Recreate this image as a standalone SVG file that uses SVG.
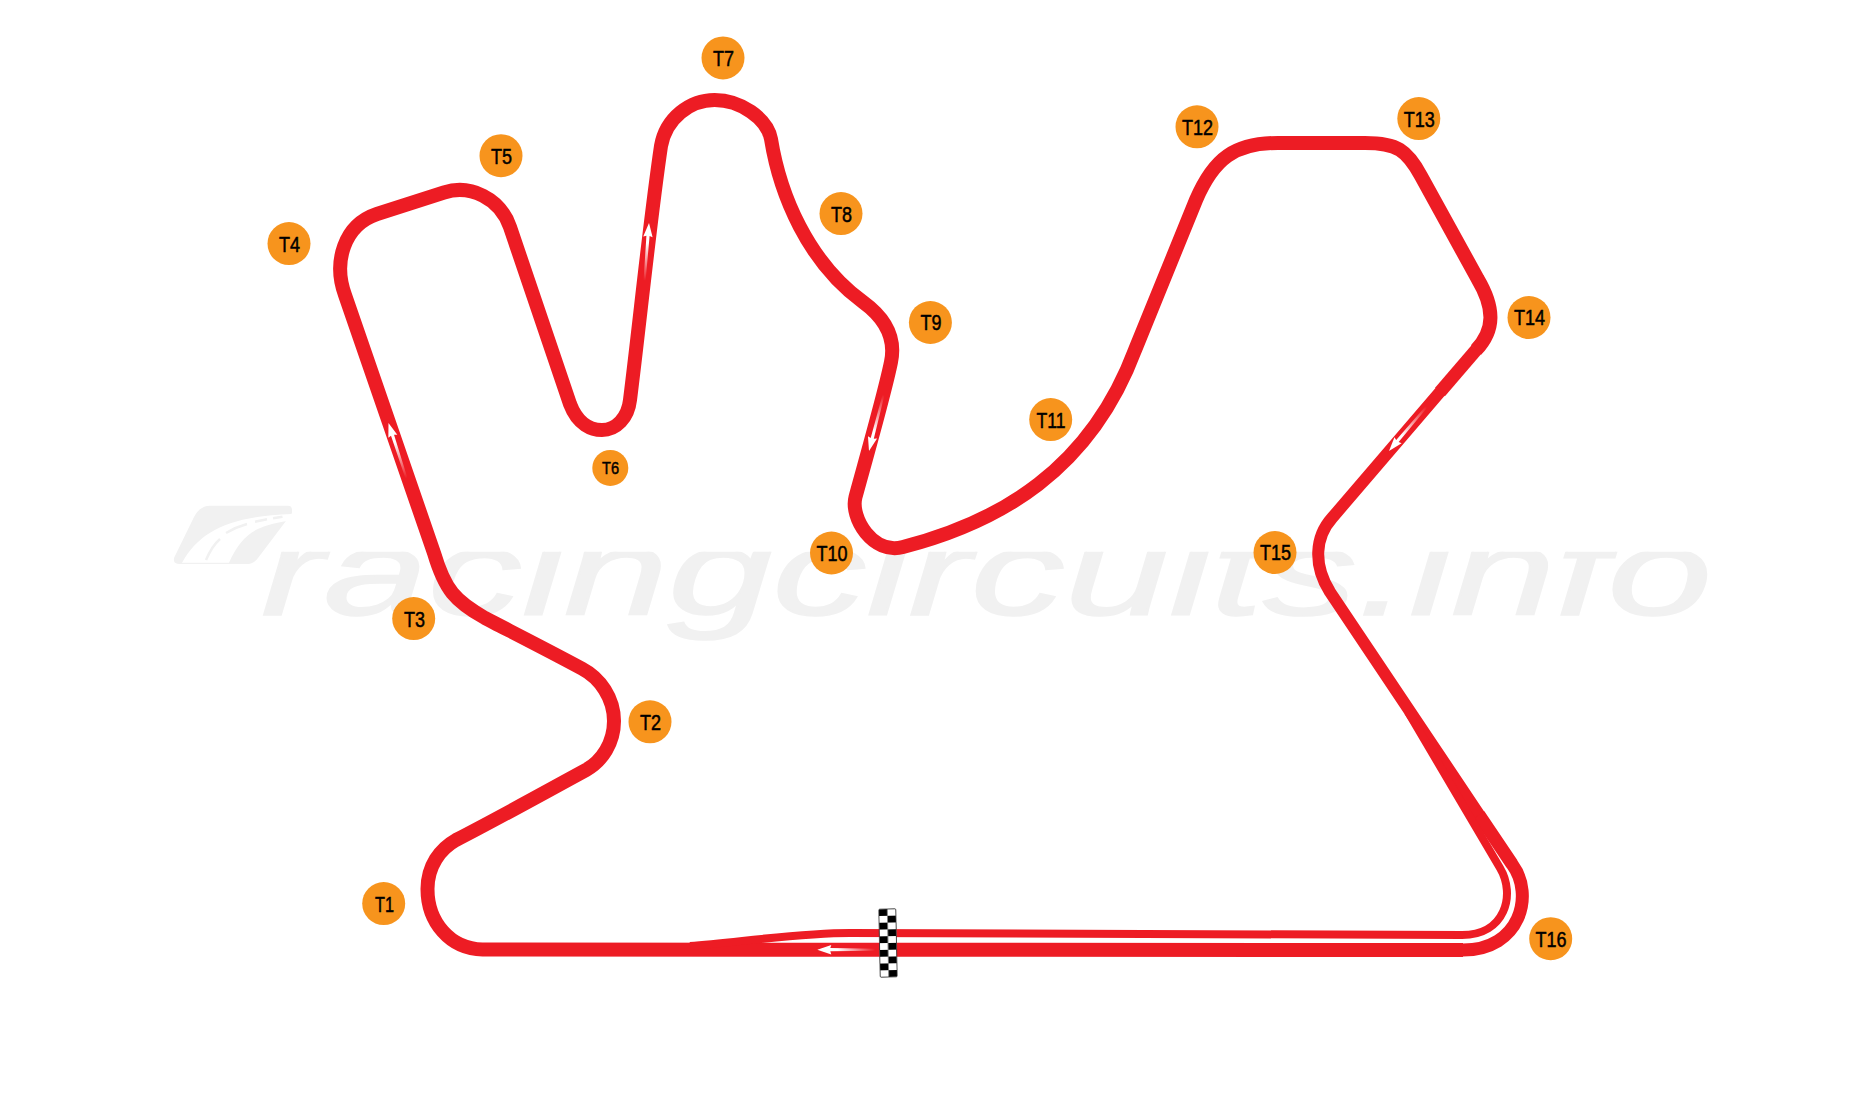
<svg xmlns="http://www.w3.org/2000/svg" width="1875" height="1110" viewBox="0 0 1875 1110">
<defs>
<style>
.trk{fill:none;stroke:#ed1c24;stroke-linecap:butt;stroke-linejoin:round}
.c{fill:#f7941d}
.l{font-family:"Liberation Sans",Arial,sans-serif;font-size:22px;fill:#000;stroke:#000;stroke-width:.5;text-anchor:middle}
.s{font-size:17px}
.wm{font-family:"Liberation Sans",Arial,sans-serif;font-style:italic;font-size:122px;fill:#f1f1f1;stroke:#f1f1f1;stroke-width:1.5}
</style>
<linearGradient id="fade" x1="0" y1="0" x2="1" y2="0">
<stop offset="0" stop-color="#fff"/><stop offset=".35" stop-color="#fff"/><stop offset="1" stop-color="#fff" stop-opacity="0"/>
</linearGradient>
<pattern id="chk" x="0" y="0" width="17" height="13.6" patternUnits="userSpaceOnUse" patternTransform="translate(879.5 909)">
<rect width="17" height="13.6" fill="#fff"/>
<rect width="8.5" height="6.8" fill="#000"/>
<rect x="8.5" y="6.8" width="8.5" height="6.8" fill="#000"/>
</pattern>
<clipPath id="xh"><rect x="200" y="551.7" width="1600" height="90"/></clipPath>
<path id="arrow" fill="url(#fade)" d="M0,0 L14,-4.7 L13,-1.6 L58,-1 L58,1 L13,1.6 L14,4.7 Z"/>
</defs>
<rect width="1875" height="1110" fill="#fff"/>
<g id="watermark">
<path fill="#f1f1f1" d="M210,505.7 H288 Q292,505.7 292,510 V513 L258,558 Q254,564 246,564 H180 Q173,564 174,558 L194,517 Q200,505.7 210,505.7 Z"/>
<path fill="#fff" d="M182,562.7 C200,530 232,516 292,514 L288,520.7 C255,526 242,534 229,562.7 Z"/>
<path fill="none" stroke="#f1f1f1" stroke-width="2.5" d="M206,560 Q212,546 220,539 M226,533 Q236,527 247,524 M255,521.7 L267,519.3 M273,518.3 L282.5,516.7"/>
<g clip-path="url(#xh)"><text class="wm" x="261" y="615" textLength="1451" lengthAdjust="spacingAndGlyphs">racingcircuits.info</text></g>
</g>
<g id="connectors">
<path class="trk" stroke-width="14" d="M1463,950 L482.6,949.5 C450,949 427.5,922 427.5,889 C427.5,866 440,849 456,840 C495,820 540,795 586,770 C602,761 614,743 614,721 C614,698 600,678 582,668.6 C540,646 500,626 485,618 C455,601 445,590 434,553 L345,295 C333,262 344,225 377,214 L444,192.5 C470,184 500,198 510,227 L570,404 C578,425 592,430 602,430 C616,430 628,418 630,400 C640,320 650,220 661,146 C666,118 690,100 714.6,100 C740,100 767,118 771,139 C780,195 808,262 863,302 C885,318 896,338 891,362 C885,392 865,462 855.5,497 C850,518 873,555 903,547 C1000,522 1090,470 1135,350 L1196,200 C1214,158 1235,143 1278,143 L1365,143 C1397,143 1407,150 1421,176 L1477.5,278.6 C1495,308 1495,330 1476,350"/>
<path class="trk" stroke-width="13" d="M1476.5,349.4 L1440,392"/>
<path class="trk" stroke-width="12" d="M1440.5,391.4 L1332,518 C1315,537 1313,565 1330,592 L1480,816"/>
<path class="trk" stroke-width="13" d="M1479,815 L1512,864 C1535,895 1520,950 1463,950"/>
<path class="trk" stroke-width="8" d="M1408,712 L1500,868 C1516,895 1505,935 1462,935 L850,933 C800,933 740,942 690,946"/>
</g>
<g id="direction-arrows">
<use href="#arrow" transform="translate(388.5 423) rotate(72)"/>
<use href="#arrow" transform="translate(649 223) rotate(94.4)"/>
<use href="#arrow" transform="translate(869 451) rotate(-75.5)"/>
<use href="#arrow" transform="translate(1389 451) rotate(-49.7)"/>
<use href="#arrow" transform="translate(817.3 949.7)"/>
</g>
<g id="start-line"><rect x="879.5" y="909" width="17" height="68" rx="1" fill="url(#chk)" stroke="#333" stroke-width=".8" transform="rotate(-1.2 888 943)"/></g>
<g id="T1"><circle class="c" cx="383.7" cy="903.6" r="21.5"/><text class="l" x="384.5" y="911.5" textLength="19" lengthAdjust="spacingAndGlyphs">T1</text></g>
<g id="T2"><circle class="c" cx="650" cy="721.8" r="21.5"/><text class="l" x="650.5" y="729.7" textLength="21" lengthAdjust="spacingAndGlyphs">T2</text></g>
<g id="T3"><circle class="c" cx="413.7" cy="618.6" r="21.5"/><text class="l" x="414.5" y="626.5" textLength="21" lengthAdjust="spacingAndGlyphs">T3</text></g>
<g id="T4"><circle class="c" cx="289" cy="243.6" r="21.5"/><text class="l" x="289.5" y="251.5" textLength="21" lengthAdjust="spacingAndGlyphs">T4</text></g>
<g id="T5"><circle class="c" cx="501" cy="155.7" r="21.5"/><text class="l" x="501.5" y="163.5" textLength="21" lengthAdjust="spacingAndGlyphs">T5</text></g>
<g id="T6"><circle class="c" cx="610.3" cy="467.9" r="18"/><text class="l s" x="610.5" y="474" textLength="17" lengthAdjust="spacingAndGlyphs">T6</text></g>
<g id="T7"><circle class="c" cx="723" cy="57.9" r="21.5"/><text class="l" x="723.5" y="65.8" textLength="21" lengthAdjust="spacingAndGlyphs">T7</text></g>
<g id="T8"><circle class="c" cx="841" cy="213.6" r="21.5"/><text class="l" x="841.5" y="221.5" textLength="21" lengthAdjust="spacingAndGlyphs">T8</text></g>
<g id="T9"><circle class="c" cx="930.4" cy="322.5" r="21.5"/><text class="l" x="931" y="330.4" textLength="21" lengthAdjust="spacingAndGlyphs">T9</text></g>
<g id="T10"><circle class="c" cx="831.5" cy="553" r="21.5"/><text class="l" x="832" y="561" textLength="31" lengthAdjust="spacingAndGlyphs">T10</text></g>
<g id="T11"><circle class="c" cx="1050.7" cy="419.6" r="21.5"/><text class="l" x="1051" y="427.5" textLength="29" lengthAdjust="spacingAndGlyphs">T11</text></g>
<g id="T12"><circle class="c" cx="1197" cy="126.8" r="21.5"/><text class="l" x="1197.5" y="134.7" textLength="31" lengthAdjust="spacingAndGlyphs">T12</text></g>
<g id="T13"><circle class="c" cx="1418.8" cy="118.6" r="21.5"/><text class="l" x="1419.3" y="126.5" textLength="31" lengthAdjust="spacingAndGlyphs">T13</text></g>
<g id="T14"><circle class="c" cx="1529" cy="317.5" r="21.5"/><text class="l" x="1529.5" y="325.4" textLength="31" lengthAdjust="spacingAndGlyphs">T14</text></g>
<g id="T15"><circle class="c" cx="1275" cy="552.5" r="21.5"/><text class="l" x="1275.5" y="560.4" textLength="31" lengthAdjust="spacingAndGlyphs">T15</text></g>
<g id="T16"><circle class="c" cx="1550.7" cy="938.7" r="21.5"/><text class="l" x="1551" y="946.5" textLength="31" lengthAdjust="spacingAndGlyphs">T16</text></g>
</svg>
